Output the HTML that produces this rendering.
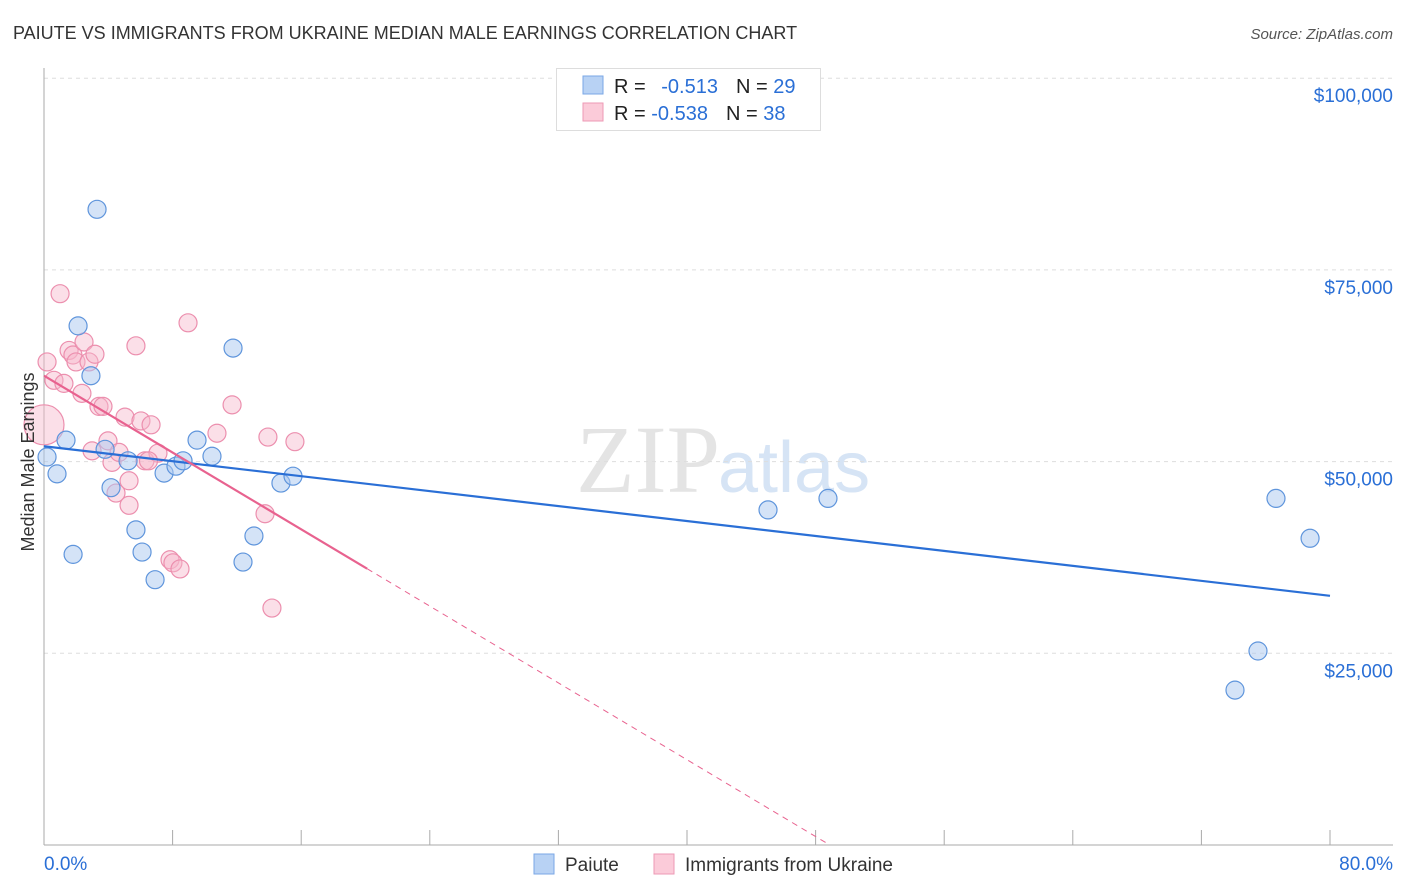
<!DOCTYPE html>
<html><head><meta charset="utf-8">
<style>
body{margin:0;background:#fff;font-family:"Liberation Sans",sans-serif;}
#wrap{position:relative;width:1406px;height:892px;overflow:hidden;}
</style></head>
<body>
<div id="wrap">
<svg id="chart" width="1406" height="892" xmlns="http://www.w3.org/2000/svg">
<text x="13" y="39" font-size="18" fill="#333">PAIUTE VS IMMIGRANTS FROM UKRAINE MEDIAN MALE EARNINGS CORRELATION CHART</text>
<text x="1393" y="39" font-size="15" fill="#555" font-style="italic" text-anchor="end">Source: ZipAtlas.com</text>
<text x="720" y="492" font-size="96" fill="#e4e4e4" text-anchor="end" font-family="Liberation Serif,serif">ZIP</text>
<text x="718" y="492" font-size="72" fill="#d6e4f5">atlas</text>
<g id="grid"></g>
<g id="axes"></g>
<g id="marks"></g>
<text transform="translate(34,462) rotate(-90)" font-size="18" fill="#333" text-anchor="middle">Median Male Earnings</text>
<g>
<rect x="556.5" y="68.5" width="264" height="62" fill="#fff" stroke="#ddd"/>
<rect x="583" y="76" width="20" height="18" fill="#b8d2f4" stroke="#7aa7e6"/>
<rect x="583" y="103" width="20" height="18" fill="#fbcbd9" stroke="#ee9ab5"/>
<text x="614" y="93" font-size="20" fill="#222">R = <tspan fill="#2a6fd6" dx="10">-0.513</tspan><tspan fill="#222" dx="18">N = </tspan><tspan fill="#2a6fd6">29</tspan></text>
<text x="614" y="120" font-size="20" fill="#222">R = <tspan fill="#2a6fd6">-0.538</tspan><tspan fill="#222" dx="18">N = </tspan><tspan fill="#2a6fd6">38</tspan></text>
</g>
<g>
<rect x="534" y="854" width="20" height="20" fill="#b8d2f4" stroke="#7aa7e6"/>
<text x="565" y="871" font-size="19" fill="#333">Paiute</text>
<rect x="654" y="854" width="20" height="20" fill="#fbcbd9" stroke="#ee9ab5"/>
<text x="685" y="871" font-size="19" fill="#333">Immigrants from Ukraine</text>
</g>
</svg>
</div>
<script>
const blueX=[0.19,0.81,1.37,1.81,2.12,2.92,3.30,3.80,4.17,5.23,5.72,6.10,6.91,7.47,8.21,8.65,9.52,10.45,11.76,12.38,13.06,14.74,15.49,45.04,48.77,74.09,75.52,76.64,78.76];
const blueY=[50.6,48.4,52.8,37.9,67.7,61.2,82.9,51.6,46.6,50.1,41.1,38.2,34.6,48.5,49.4,50.1,52.8,50.7,64.8,36.9,40.3,47.2,48.1,43.7,45.2,20.2,25.3,45.2,40.0];
const pinkX=[0,0.19,0.62,1.0,1.24,1.56,1.80,1.99,2.36,2.49,2.80,2.99,3.17,3.42,3.67,3.98,4.23,4.48,4.67,5.04,5.29,5.29,5.72,6.03,6.28,6.66,7.09,7.84,8.02,8.46,8.96,10.76,11.70,13.75,13.93,14.18,15.61,6.5];
const pinkY=[54.8,63.0,60.6,71.9,60.2,64.5,63.9,63.0,58.9,65.6,63.0,51.4,64.0,57.2,57.2,52.7,49.9,45.9,51.2,55.8,44.3,47.5,65.1,55.3,50.1,54.8,51.1,37.2,36.8,36.0,68.1,53.7,57.4,43.2,53.2,30.9,52.6,50.1];
const blueTrend=[52.0,32.5];      // y at x=0 and x=80
const pinkTrend=[61.2,-1.252];    // intercept, slope
const pinkSolidEnd=20.1;
const yTicks=[25,50,75,100];
const yTickLabels=["$25,000","$50,000","$75,000","$100,000"];
const xTicks=[0,8,16,24,32,40,48,56,64,72,80];

const NS="http://www.w3.org/2000/svg";
const X0=44,X1=1330,Y0=845,PX=191.7/25;
function sx(v){return X0+(v/80)*(X1-X0);}
function sy(v){return Y0-v*PX;}
function mk(tag,attrs,parent){const e=document.createElementNS(NS,tag);for(const k in attrs)e.setAttribute(k,attrs[k]);parent.appendChild(e);return e;}
const grid=document.getElementById('grid'),axes=document.getElementById('axes'),marks=document.getElementById('marks');
yTicks.forEach((t,i)=>{
  const l=mk('line',{x1:X0,x2:1393,y1:sy(t),y2:sy(t),stroke:'#ddd','stroke-dasharray':'4,4'},grid);
  
  
  const tx=mk('text',{x:1393,y:sy(t)+24,'font-size':19,fill:'#2a6fd6','text-anchor':'end'},axes);
  tx.textContent=yTickLabels[i];
  
  
});
const ya=mk('line',{x1:X0,x2:X0,y1:68,y2:845,stroke:'#aaa'},axes);


const xa=mk('line',{x1:X0,x2:1393,y1:845,y2:845,stroke:'#aaa'},axes);


xTicks.forEach(t=>{
  const l=mk('line',{x1:sx(t),x2:sx(t),y1:830,y2:845,stroke:'#aaa'},axes);
  
  
});
const xl0=mk('text',{x:44,y:870,'font-size':19,fill:'#2a6fd6'},axes);xl0.textContent='0.0%';


const xl1=mk('text',{x:1393,y:870,'font-size':19,fill:'#2a6fd6','text-anchor':'end'},axes);xl1.textContent='80.0%';



pinkX.forEach((x,i)=>{
  const c=mk('circle',{cx:sx(x),cy:sy(pinkY[i]),r:i===0?20:9,fill:'#f7b7cb','fill-opacity':0.45,stroke:'#ec8fae','stroke-width':1.2},marks);
  
  
});
blueX.forEach((x,i)=>{
  const c=mk('circle',{cx:sx(x),cy:sy(blueY[i]),r:9,fill:'#a9c8f0','fill-opacity':0.5,stroke:'#5f95dc','stroke-width':1.2},marks);
  
  
});
const bt=mk('line',{x1:sx(0),y1:sy(blueTrend[0]),x2:sx(80),y2:sy(blueTrend[1]),stroke:'#2a6fd6','stroke-width':2.2},marks);


const pt=mk('line',{x1:sx(0),y1:sy(pinkTrend[0]),x2:sx(pinkSolidEnd),y2:sy(pinkTrend[0]+pinkTrend[1]*pinkSolidEnd),stroke:'#e8628f','stroke-width':2.2},marks);


const xz=-pinkTrend[0]/pinkTrend[1];
const pd=mk('line',{x1:sx(pinkSolidEnd),y1:sy(pinkTrend[0]+pinkTrend[1]*pinkSolidEnd),x2:sx(xz),y2:sy(0),stroke:'#e8628f','stroke-width':1,'stroke-dasharray':'6,5'},marks);


</script>
</body></html>
